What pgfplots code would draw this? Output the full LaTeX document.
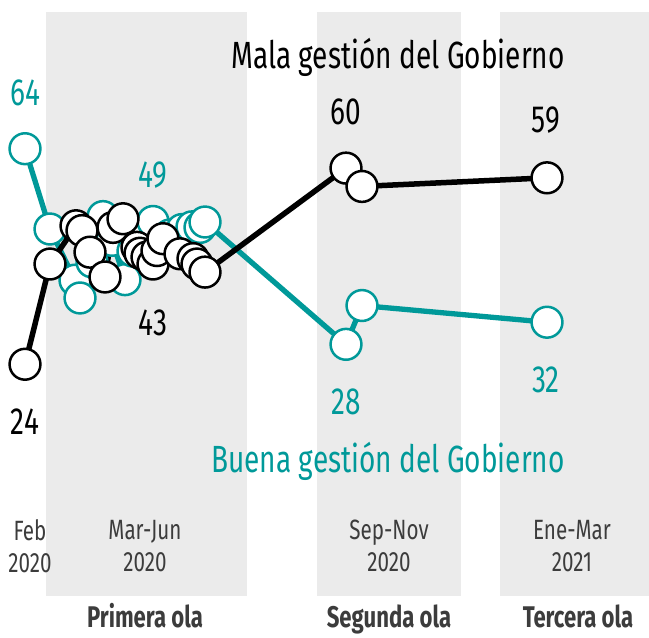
\documentclass[border=0pt]{standalone}
\usepackage{pgfplots}
\pgfplotsset{compat=1.18}
\usepackage{fontspec}
\setmainfont{Fira Sans}[FakeStretch=0.74]
\definecolor{teal1}{RGB}{0,153,153}
\definecolor{band}{RGB}{235,235,235}
\definecolor{lab}{RGB}{60,60,60}
\pgfplotstableread{
x y
25 24
50 42.6
76 49.7
82 48.8
90 44.8
105 40.2
113 49.4
123 51.0
137 45.7
140 44.6
147 43.9
153 42.6
157 45.1
163 47.3
180 44.5
193 43.6
197 42.6
205 41.1
346 60.4
362 57.0
547 58.6
}\mala
\pgfplotstableread{
x y
25 64
50 49.1
75 39.6
80 36.3
92 43
103 51.4
112 47
125 39.7
133 45
145 47.5
153 50.5
160 46
170 48
182 49
192 49.5
200 49.4
205 50.4
346 27.7
362 34.9
547 31.8
}\buena
\begin{document}
\begin{tikzpicture}
\begin{axis}[
  scale only axis, width=649bp, height=638bp,
  xmin=0, xmax=649, ymin=-26.8, ymax=91.6,
  hide axis, clip=false,
]
\fill[band] (axis cs:46,-19) rectangle (axis cs:247,89.3);
\fill[band] (axis cs:317,-19) rectangle (axis cs:461,89.3);
\fill[band] (axis cs:500,-19) rectangle (axis cs:649,89.3);
\addplot[teal1, line width=5.3bp, mark=*, mark size=15.5pt,
  mark options={fill=white, draw=teal1, line width=2.5bp}] table[x=x,y=y] {\buena};
\addplot[black, line width=5.5bp, mark=*, mark size=15.5pt,
  mark options={fill=white, draw=black, line width=2.5bp}] table[x=x,y=y] {\mala};
\begin{scope}[every node/.style={font=\fontsize{38}{38}\selectfont, inner sep=0pt}]
\node at (axis cs:398,81.0) {Mala gestión del Gobierno};
\node[teal1] at (axis cs:388,5.9) {Buena gestión del Gobierno};
\node at (axis cs:346,70.8) {60};
\node at (axis cs:546,69.3) {59};
\node[teal1] at (axis cs:25,74.3) {64};
\node[teal1] at (axis cs:153,59.1) {49};
\node at (axis cs:153,31.7) {43};
\node at (axis cs:25,13.3) {24};
\node[teal1] at (axis cs:346,17.0) {28};
\node[teal1] at (axis cs:546,21.1) {32};
\end{scope}
\begin{scope}[every node/.style={font=\fontsize{28}{32}\selectfont, inner sep=0pt, align=center, text=lab}]
\node at (axis cs:30,-9.7) {Feb\\2020};
\node at (axis cs:145,-9.7) {Mar-Jun\\2020};
\node at (axis cs:389,-9.7) {Sep-Nov\\2020};
\node at (axis cs:572,-9.7) {Ene-Mar\\2021};
\end{scope}
\begin{scope}[every node/.style={font=\fontsize{30}{30}\selectfont\bfseries, inner sep=0pt, text=lab, anchor=base}]
\node at (axis cs:145,-24.9) {Primera ola};
\node at (axis cs:389,-24.9) {Segunda ola};
\node at (axis cs:578,-24.9) {Tercera ola};
\end{scope}
\end{axis}
\pgfresetboundingbox
\path (current axis.south west) rectangle (current axis.north east);
\end{tikzpicture}
\end{document}
